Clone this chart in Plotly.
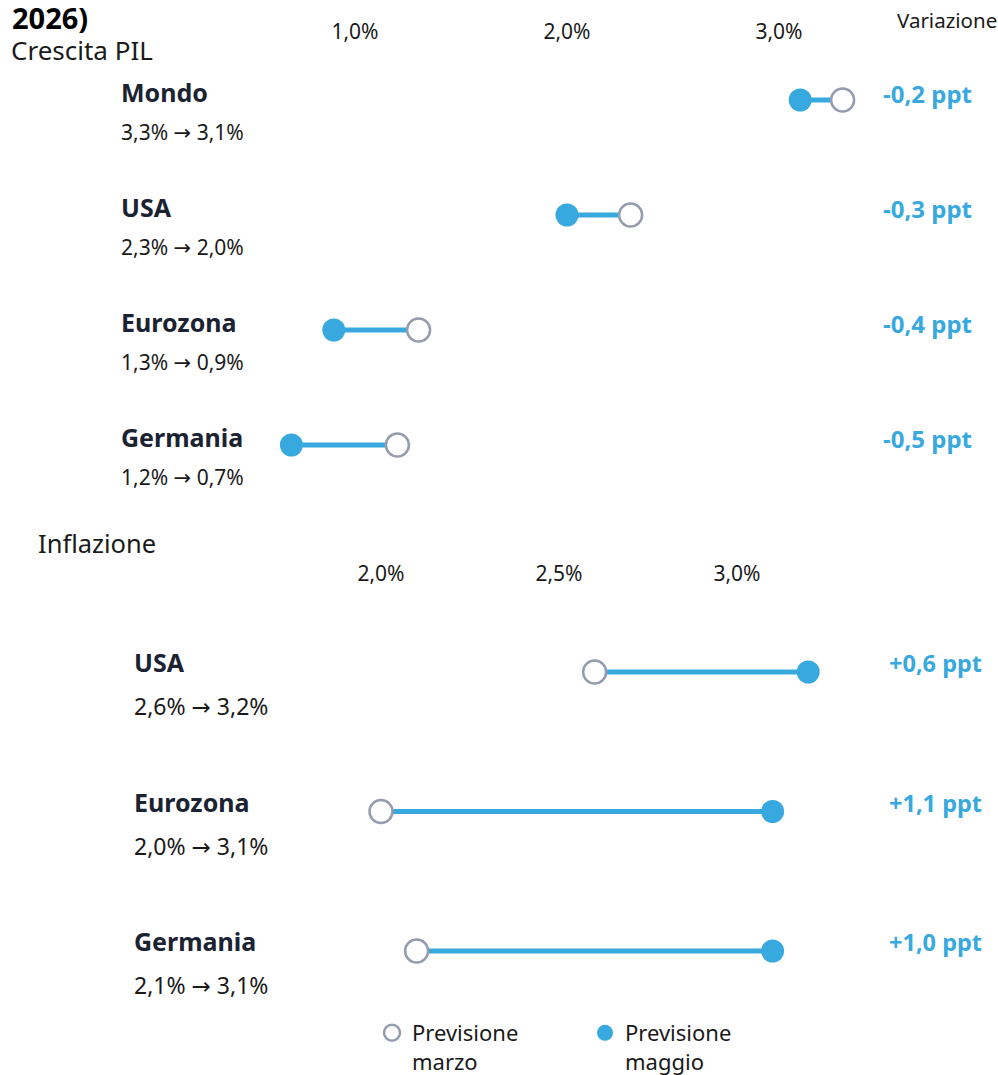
import plotly.graph_objects as go

# ---------------- data ----------------
gdp_countries = ["Mondo", "USA", "Eurozona", "Germania"]
gdp_march = [3.3, 2.3, 1.3, 1.2]
gdp_may = [3.1, 2.0, 0.9, 0.7]
gdp_ticks = [1.0, 2.0, 3.0]

infl_countries = ["USA", "Eurozona", "Germania"]
infl_march = [2.6, 2.0, 2.1]
infl_may = [3.2, 3.1, 3.1]
infl_ticks = [2.0, 2.5, 3.0]

title_text = "2026)"
gdp_title = "Crescita PIL"
infl_title = "Inflazione"
change_header = "Variazione"
legend_march = "Previsione<br>marzo"
legend_may = "Previsione<br>maggio"

# ---------------- style ----------------
W, H = 998, 1075
BLUE = "#38A9DE"
GREY = "#959CB0"
NAVY = "#1B2333"
TXT = "#1a1a1a"
FONT = "Noto Sans"
ARROW = '<span style="font-family:DejaVu Sans">→</span>'


def fmt(v, sign=False):
    s = f"{v:+.1f}" if sign else f"{v:.1f}"
    return s.replace(".", ",")


fig = go.Figure()


def add_panel(countries, march, may, xa, ya, show_legend):
    idx = list(range(len(countries)))
    lx, ly = [], []
    for i in idx:
        lx += [march[i], may[i], None]
        ly += [i, i, None]
    fig.add_trace(go.Scatter(x=lx, y=ly, mode="lines", xaxis=xa, yaxis=ya,
                             line=dict(color=BLUE, width=5), showlegend=False,
                             hoverinfo="skip"))
    fig.add_trace(go.Scatter(x=march, y=idx, mode="markers", xaxis=xa, yaxis=ya,
                             name=legend_march, legendgroup="march",
                             showlegend=show_legend,
                             marker=dict(size=23, color="white",
                                         line=dict(color=GREY, width=2.5))))
    fig.add_trace(go.Scatter(x=may, y=idx, mode="markers", xaxis=xa, yaxis=ya,
                             name=legend_may, legendgroup="may",
                             showlegend=show_legend,
                             marker=dict(size=23, color=BLUE,
                                         line=dict(width=0))))


add_panel(gdp_countries, gdp_march, gdp_may, "x", "y", True)
add_panel(infl_countries, infl_march, infl_may, "x2", "y2", False)

ann = []
# GDP row labels
for i, c in enumerate(gdp_countries):
    ann.append(dict(x=119 / W, xref="paper", y=i, yref="y", yshift=8,
                    text=f"<b>{c}</b>", xanchor="left", yanchor="middle",
                    showarrow=False, font=dict(size=25, color=NAVY, family=FONT)))
    ann.append(dict(x=119 / W, xref="paper", y=i, yref="y", yshift=-32,
                    text=f"{fmt(gdp_march[i])}% {ARROW} {fmt(gdp_may[i])}%",
                    xanchor="left", yanchor="middle", showarrow=False,
                    font=dict(size=21, color=TXT, family=FONT)))
    ann.append(dict(x=974 / W, xref="paper", y=i, yref="y", yshift=7,
                    text=f"<b>{fmt(round(gdp_may[i] - gdp_march[i], 1), True)} ppt</b>",
                    xanchor="right", yanchor="middle", showarrow=False,
                    font=dict(size=24, color=BLUE, family=FONT)))
for i, c in enumerate(infl_countries):
    ann.append(dict(x=132 / W, xref="paper", y=i, yref="y2", yshift=10,
                    text=f"<b>{c}</b>", xanchor="left", yanchor="middle",
                    showarrow=False, font=dict(size=25, color=NAVY, family=FONT)))
    ann.append(dict(x=132 / W, xref="paper", y=i, yref="y2", yshift=-34,
                    text=f"{fmt(infl_march[i])}% {ARROW} {fmt(infl_may[i])}%",
                    xanchor="left", yanchor="middle", showarrow=False,
                    font=dict(size=23, color=TXT, family=FONT)))
    ann.append(dict(x=984 / W, xref="paper", y=i, yref="y2", yshift=9,
                    text=f"<b>{fmt(round(infl_may[i] - infl_march[i], 1), True)} ppt</b>",
                    xanchor="right", yanchor="middle", showarrow=False,
                    font=dict(size=23.5, color=BLUE, family=FONT)))

# headers
ann.append(dict(x=10 / W, xref="paper", y=1 - 17 / H, yref="paper", text=f"<b>{title_text}</b>",
                xanchor="left", yanchor="middle", showarrow=False,
                font=dict(size=29, color="#000", family=FONT)))
ann.append(dict(x=9 / W, xref="paper", y=1 - 50 / H, yref="paper", text=gdp_title,
                xanchor="left", yanchor="middle", showarrow=False,
                font=dict(size=26, color=TXT, family=FONT)))
ann.append(dict(x=36 / W, xref="paper", y=1 - 543 / H, yref="paper", text=infl_title,
                xanchor="left", yanchor="middle", showarrow=False,
                font=dict(size=25.5, color=TXT, family=FONT)))
ann.append(dict(x=999 / W, xref="paper", y=1 - 20 / H, yref="paper", text=change_header,
                xanchor="right", yanchor="middle", showarrow=False,
                font=dict(size=20.5, color=TXT, family=FONT)))

# axis scales (pixel fits)
gdp_x1, gdp_ppu = 355, 212
infl_x2, infl_ppu = 381, 356
gdp_range = [1 - gdp_x1 / gdp_ppu, 1 + (W - gdp_x1) / gdp_ppu]
infl_range = [2 - infl_x2 / infl_ppu, 2 + (W - infl_x2) / infl_ppu]

gdp_y0, gdp_step = 100, 115
infl_y0, infl_step = 672, 139.5
gdp_yr = [(H - gdp_y0) / gdp_step, -gdp_y0 / gdp_step]
infl_yr = [(H - infl_y0) / infl_step, -infl_y0 / infl_step]

axis_common = dict(showgrid=False, zeroline=False, showline=False, ticks="",
                   side="top", anchor="free", domain=[0, 1],
                   tickfont=dict(size=21, color=TXT, family=FONT))

fig.update_layout(
    width=W, height=H,
    margin=dict(l=0, r=0, t=0, b=0, autoexpand=False),
    paper_bgcolor="white", plot_bgcolor="rgba(0,0,0,0)",
    font=dict(family=FONT),
    xaxis=dict(range=gdp_range, tickvals=gdp_ticks,
               ticktext=[fmt(v) + "%" for v in gdp_ticks],
               position=1 - 43 / H, **axis_common),
    xaxis2=dict(range=infl_range, tickvals=infl_ticks,
                ticktext=[fmt(v) + "%" for v in infl_ticks],
                position=1 - 585 / H, **axis_common),
    yaxis=dict(range=gdp_yr, domain=[0, 1], visible=False, anchor="x"),
    yaxis2=dict(range=infl_yr, domain=[0, 1], visible=False, anchor="x2"),
    annotations=ann,
    showlegend=True,
    legend=dict(orientation="h", x=372 / W, xanchor="left", y=1 - 1012 / H, yanchor="top",
                valign="top", entrywidth=168, entrywidthmode="pixels",
                font=dict(size=22, color=TXT, family=FONT), itemsizing="trace",
                bgcolor="rgba(0,0,0,0)"),
)

fig.write_html("out.html", config={"displayModeBar": False},
               post_script="document.body.style.margin='0';document.body.style.overflow='hidden';")
